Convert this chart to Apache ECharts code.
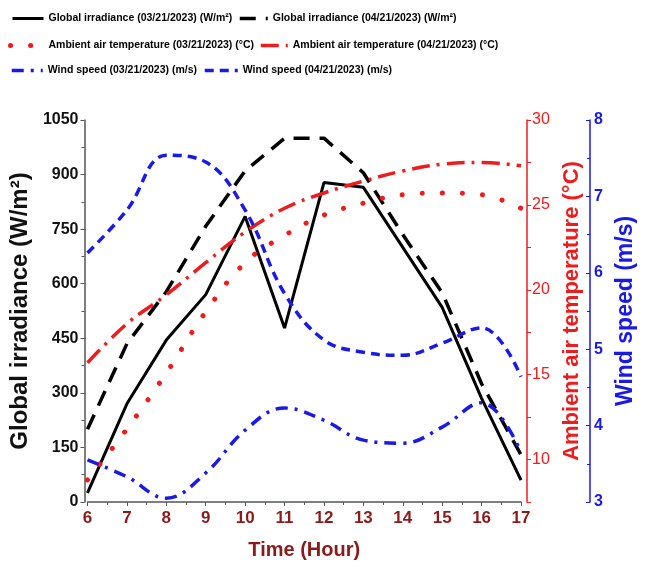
<!DOCTYPE html>
<html>
<head>
<meta charset="utf-8">
<script src="https://cdn.jsdelivr.net/npm/echarts@6/dist/echarts.min.js"></script>
<style>
  html, body { margin: 0; padding: 0; background: #fff; }
  #make { width: 645px; height: 570px; }
</style>
</head>
<body>
<div id="make"></div>
<script>
// 数据
var hours = [6, 7, 8, 9, 10, 11, 12, 13, 14, 15, 16, 17];
var irr0321 = [25, 270, 445, 570, 785, 478, 878, 865, 700, 535, 285, 60];
var irr0421 = [200, 435, 578, 758, 910, 1000, 1000, 905, 735, 575, 325, 130];
var temp0321 = [8.8, 11.8, 15.1, 18.7, 21.6, 23.2, 24.4, 25.1, 25.6, 25.7, 25.6, 24.8];
var temp0421 = [15.7, 18.0, 19.7, 21.6, 23.4, 24.8, 25.7, 26.4, 27.0, 27.4, 27.5, 27.3];
var wind0321 = [3.55, 3.33, 3.05, 3.38, 3.94, 4.23, 4.07, 3.81, 3.77, 3.98, 4.30, 3.65];
var wind0421 = [6.26, 6.82, 7.54, 7.45, 6.82, 5.73, 5.12, 4.96, 4.92, 5.08, 5.28, 4.64];

var names = [
    'Global irradiance (03/21/2023) (W/m²)',
    'Global irradiance (04/21/2023) (W/m²)',
    'Ambient air temperature (03/21/2023) (°C)',
    'Ambient air temperature (04/21/2023) (°C)',
    'Wind speed (03/21/2023) (m/s)',
    'Wind speed (04/21/2023) (m/s)'
];

function pairs(ys) {
    return hours.map(function (h, i) { return [h, ys[i]]; });
}

var RED = '#ee1c1c', BLUE = '#1a1ae6', DARKRED = '#8b1a1a';
var legendText = { fontFamily: 'Liberation Sans', fontWeight: 'bold', fontSize: 10.5, color: '#000' };

// 每个图例单独定位
function legendAt(name, left, top, w) {
    return {
        data: [name], left: left, top: top, itemWidth: w, itemHeight: 12,
        itemGap: 4, padding: 0, textStyle: legendText,
        itemStyle: { opacity: 0 },
        lineStyle: { width: 'inherit', type: 'inherit' }
    };
}

var myChart = echarts.init(document.getElementById('make'));

var option = {
    animation: false,
    textStyle: { fontFamily: 'Liberation Sans' },
    legend: [
        legendAt(names[0], 11, 13, 31),
        legendAt(names[1], 238, 13, 28),
        legendAt(names[2], 8, 40, 33),
        legendAt(names[3], 259, 40, 27),
        legendAt(names[4], 10, 65, 31),
        legendAt(names[5], 203, 65, 33)
    ],
    grid: { left: 83, right: 114, top: 120, bottom: 68 },
    xAxis: {
        type: 'value', min: 6, max: 17, interval: 1,
        name: 'Time (Hour)', nameLocation: 'middle', nameGap: 38,
        nameTextStyle: { color: DARKRED, fontSize: 20, fontWeight: 'bold' },
        axisLine: { lineStyle: { color: '#555', width: 1.5 } },
        axisTick: { inside: false, length: 4, lineStyle: { color: '#555' } },
        minorTick: { show: true, splitNumber: 2, length: 3, lineStyle: { color: '#555' } },
        axisLabel: { color: DARKRED, fontSize: 17, fontWeight: 'bold', margin: 8 },
        splitLine: { show: false }
    },
    yAxis: [
        {
            type: 'value', min: 0, max: 1050, interval: 150, position: 'left', offset: 3,
            name: 'Global irradiance (W/m²)', nameLocation: 'middle', nameGap: 49,
            nameTextStyle: { color: '#111', fontSize: 24, fontWeight: 'bold' },
            axisLine: { show: true, lineStyle: { color: '#555', width: 1.5 } },
            axisTick: { show: true, length: 4, lineStyle: { color: '#555' } },
            minorTick: { show: true, splitNumber: 2, length: 3, lineStyle: { color: '#555' } },
            axisLabel: {
                color: '#111', fontSize: 16, fontWeight: 'bold', margin: 6,
                formatter: function (v) { return String(v); }
            },
            splitLine: { show: false }
        },
        {
            type: 'value', min: 7.5, max: 30, interval: 2.5, position: 'right', offset: 6,
            name: 'Ambient air temperature (°C)', nameLocation: 'middle', nameGap: 34,
            nameRotate: 90,
            nameTextStyle: { color: RED, fontSize: 22, fontWeight: 'bold' },
            axisLine: { show: true, lineStyle: { color: RED, width: 1.5 } },
            axisTick: { show: true, length: 4, lineStyle: { color: RED } },
            axisLabel: {
                color: RED, fontSize: 16, margin: 5,
                formatter: function (v) { return v % 5 === 0 ? v : ''; }
            },
            splitLine: { show: false }
        },
        {
            type: 'value', min: 3, max: 8, interval: 1, position: 'right', offset: 69,
            name: 'Wind speed (m/s)', nameLocation: 'middle', nameGap: 24,
            nameRotate: 90,
            nameTextStyle: { color: BLUE, fontSize: 23, fontWeight: 'bold' },
            axisLine: { show: true, lineStyle: { color: BLUE, width: 1.5 } },
            axisTick: { show: true, inside: true, length: 4, lineStyle: { color: BLUE } },
            minorTick: { show: true, splitNumber: 2, length: 3, lineStyle: { color: BLUE } },
            axisLabel: { color: BLUE, fontSize: 16, fontWeight: 'bold', margin: 4 },
            splitLine: { show: false }
        }
    ],
    series: [
        {
            name: names[0], type: 'line', yAxisIndex: 0, symbol: 'none',
            lineStyle: { color: '#000', width: 3 }, itemStyle: { color: '#000' },
            data: pairs(irr0321)
        },
        {
            name: names[1], type: 'line', yAxisIndex: 0, symbol: 'none',
            lineStyle: { color: '#000', width: 3.5, type: [16, 10] }, itemStyle: { color: '#000' },
            data: pairs(irr0421)
        },
        {
            name: names[2], type: 'line', yAxisIndex: 1, symbol: 'none', smooth: 0.4,
            lineStyle: { color: RED, width: 5, type: [0.1, 20], cap: 'round' }, itemStyle: { color: RED },
            data: pairs(temp0321)
        },
        {
            name: names[3], type: 'line', yAxisIndex: 1, symbol: 'none', smooth: 0.4,
            lineStyle: { color: RED, width: 3.5, type: [18, 7, 3, 7] }, itemStyle: { color: RED },
            data: pairs(temp0421)
        },
        {
            name: names[4], type: 'line', yAxisIndex: 2, symbol: 'none', smooth: 0.4,
            lineStyle: { color: BLUE, width: 3.5, type: [12, 7, 3, 7] }, itemStyle: { color: BLUE },
            data: pairs(wind0321)
        },
        {
            name: names[5], type: 'line', yAxisIndex: 2, symbol: 'none', smooth: 0.4,
            lineStyle: { color: BLUE, width: 3.5, type: [9, 6] }, itemStyle: { color: BLUE },
            data: pairs(wind0421)
        }
    ]
};

myChart.setOption(option);
</script>
</body>
</html>
